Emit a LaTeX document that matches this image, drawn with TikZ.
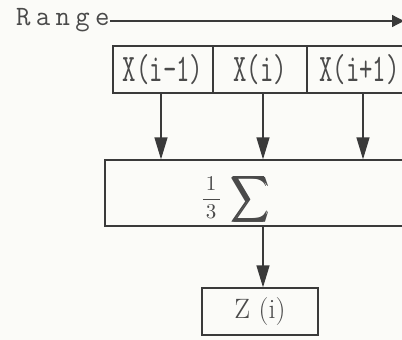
\documentclass[tikz,border=0pt]{standalone}
\usepackage{amsmath}
\usepackage{fontspec}
\usepackage{graphicx}
\usetikzlibrary{arrows.meta}
\newfontfamily\rangefont{Latin Modern Mono}[LetterSpace=19]
\definecolor{ink}{HTML}{3A3A3A}
\definecolor{txt}{HTML}{4A4A4A}
\definecolor{paper}{HTML}{FBFBF8}
\newcommand{\tallx}[1]{\scalebox{1}[1.5]{#1}}
\begin{document}
\begin{tikzpicture}[x=1pt,y=-1pt,
  every node/.style={inner sep=0pt, text=txt},
  cell/.style={draw=ink, line width=1.3pt, rectangle, minimum height=47pt,
    font=\fontsize{26}{26}\selectfont\ttfamily},
  flow/.style={draw=ink, line width=1.3pt, -{Triangle[width=13pt,length=22pt]}}]
\fill[paper] (0,0) rectangle (402,340);
\clip (0,0) rectangle (402,340);
\useasboundingbox (0,0) rectangle (402,340);
% Range arrow
\node[anchor=base west, font=\fontsize{28}{28}\selectfont\rangefont] (range) at (16,25.5) {Range};
\coordinate (rend) at (404,21);
\draw[flow, -{Triangle[width=12pt,length=12pt]}] (range.east |- rend) -- (rend);
% input cells
\node[cell, minimum width=100pt] (x1) at (163,69.5) {\tallx{X(i–1)}};
\node[cell, minimum width=94pt] (x2) at (260,69.5) {\tallx{X(i)}};
\node[cell, minimum width=100pt] (x3) at (357,69.5) {\hspace*{5pt}\tallx{X(i+1)}};
% sum box
\node[draw=ink, line width=1.3pt, rectangle, minimum width=320pt, minimum height=66pt] (sum) at (265,193) {};
\node (sumtext) at (235,199) {\scalebox{2.1}[2.1]{$\dfrac{\hspace{1.5pt}1\hspace{1.5pt}}{\hspace{1.5pt}3\hspace{1.5pt}}$}\hspace{10pt}\raisebox{-3pt}{\scalebox{2.6}[3.2]{$\displaystyle\pmb{\sum}$}}};
% output
\node[draw=ink, line width=1.3pt, rectangle, minimum width=116pt, minimum height=47pt,
  font=\fontsize{28}{28}\selectfont] (z) at (260,311.5) {Z (i)};
% connectors
\draw[flow] ([xshift=-2pt]x1.south) -- ([xshift=-2pt]x1.south |- sum.north);
\draw[flow] ([xshift=3pt]x2.south) -- ([xshift=3pt]x2.south |- sum.north);
\draw[flow] ([xshift=6pt]x3.south) -- ([xshift=6pt]x3.south |- sum.north);
\draw[flow] ([xshift=3pt]z.north |- sum.south) -- ([xshift=3pt]z.north);
\end{tikzpicture}
\end{document}
